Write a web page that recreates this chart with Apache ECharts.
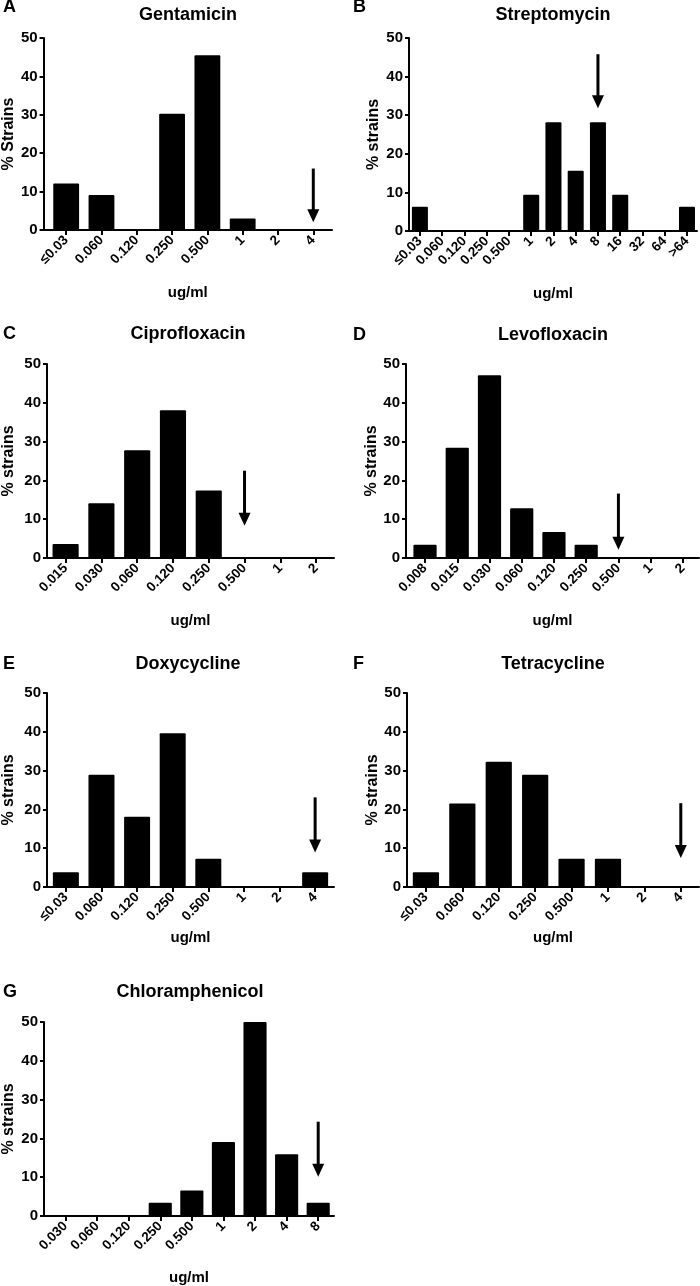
<!DOCTYPE html>
<html><head><meta charset="utf-8">
<script src="https://cdn.jsdelivr.net/npm/echarts@6/dist/echarts.min.js"></script>
<style>html,body{margin:0;padding:0;background:#fff}#c{width:700px;height:1286px}</style>
</head><body><div id="c"></div>
<script>
// ---- data ----
const titles = ['Gentamicin','Streptomycin','Ciprofloxacin','Levofloxacin','Doxycycline','Tetracycline','Chloramphenicol'];
const letters = ['A','B','C','D','E','F','G'];
const yNames = ['% Strains','% strains','% strains','% strains','% strains','% strains','% strains'];
const xName = 'ug/ml';
const yTicks = [0,10,20,30,40,50];

const catsA = ['≤0.03','0.060','0.120','0.250','0.500','1','2','4'];
const valsA = [12.1, 9.1, 0, 30.3, 45.5, 3.0, 0, 0];
const arrowA = [7, 16, 2];

const catsB = ['≤0.03','0.060','0.120','0.250','0.500','1','2','4','8','16','32','64','>64'];
const valsB = [6.3, 0, 0, 0, 0, 9.4, 28.2, 15.6, 28.2, 9.4, 0, 0, 6.3];
const arrowB = [8, 45.8, 31.8];

const catsC = ['0.015','0.030','0.060','0.120','0.250','0.500','1','2'];
const valsC = [3.6, 14.1, 27.8, 38.1, 17.4, 0, 0, 0];
const arrowC = [5, 22.5, 8.3];

const catsD = ['0.008','0.015','0.030','0.060','0.120','0.250','0.500','1','2'];
const valsD = [3.4, 28.4, 47.1, 12.8, 6.7, 3.4, 0, 0, 0];
const arrowD = [6, 16.6, 2.1];

const catsE = ['≤0.03','0.060','0.120','0.250','0.500','1','2','4'];
const valsE = [3.8, 28.9, 18.1, 39.6, 7.3, 0, 0, 3.8];
const arrowE = [7, 23.1, 8.9];

const catsF = ['≤0.03','0.060','0.120','0.250','0.500','1','2','4'];
const valsF = [3.8, 21.5, 32.3, 28.9, 7.3, 7.3, 0, 0];
const arrowF = [7, 21.6, 7.5];

const catsG = ['0.030','0.060','0.120','0.250','0.500','1','2','4','8'];
const valsG = [0, 0, 0, 3.4, 6.6, 19.1, 50, 15.9, 3.4];
const arrowG = [8, 24.3, 10.1];

const panelCats = [catsA, catsB, catsC, catsD, catsE, catsF, catsG];
const panelVals = [valsA, valsB, valsC, valsD, valsE, valsF, valsG];
const panelArrows = [arrowA, arrowB, arrowC, arrowD, arrowE, arrowF, arrowG];

// ---- layout (positions / styles) ----
const layout = [
  {ax:39,  end:332, top:38,   bot:230,  min:-0.64, max:7.53,  yGap:24, xGap:55, tx:188, ty:15,  ly:7},
  {ax:409, end:697, top:38,   bot:231,  min:-0.49, max:12.45, yGap:27, xGap:55, tx:553, ty:15,  ly:7},
  {ax:43,  end:334, top:364,  bot:558,  min:-0.52, max:7.5,   yGap:30, xGap:55, tx:188, ty:334, ly:334},
  {ax:406, end:699, top:364,  bot:558,  min:-0.59, max:8.5,   yGap:25, xGap:55, tx:553, ty:335, ly:335},
  {ax:43,  end:334, top:693,  bot:887,  min:-0.53, max:7.53,  yGap:30, xGap:43, tx:188, ty:664, ly:664},
  {ax:407, end:699, top:693,  bot:887,  min:-0.52, max:7.5,   yGap:25, xGap:43, tx:553, ty:664, ly:664},
  {ax:39,  end:334, top:1022, bot:1216, min:-0.68, max:8.5,   yGap:27, xGap:54, tx:190, ty:992, ly:992}
];
const FONT = "'Liberation Sans', Arial, Helvetica, sans-serif";

const grid = [], xAxis = [], yAxis = [], series = [], graphic = [];
layout.forEach((L, i) => {
  const cats = panelCats[i];
  const idx = cats.map((c, j) => j);
  const width = L.end - L.ax;
  const unit = width / (L.max - L.min);
  grid.push({left: L.ax, top: L.top, width: width, height: L.bot - L.top, containLabel: false});
  xAxis.push({
    type: 'value', gridIndex: i, min: L.min, max: L.max,
    splitLine: {show: false},
    axisLine: {show: true, onZero: false, lineStyle: {color: '#000', width: 2}},
    axisTick: {show: true, customValues: idx, length: 5, lineStyle: {color: '#000', width: 2}},
    axisLabel: {customValues: idx, formatter: v => cats[Math.round(v)], rotate: 45, margin: 8,
      color: '#000', fontWeight: 'bold', fontSize: 13.5, fontFamily: FONT},
    name: xName, nameLocation: 'middle', nameGap: L.xGap,
    nameTextStyle: {color: '#000', fontWeight: 'bold', fontSize: 15, fontFamily: FONT}
  });
  yAxis.push({
    type: 'value', gridIndex: i, min: 0, max: 50, interval: 10,
    splitLine: {show: false},
    axisLine: {show: true, onZero: false, lineStyle: {color: '#000', width: 2}},
    axisTick: {show: true, length: 4, lineStyle: {color: '#000', width: 2}},
    axisLabel: {margin: 6, color: '#000', fontWeight: 'bold', fontSize: 15, fontFamily: FONT,
      formatter: v => yTicks.indexOf(v) >= 0 ? String(v) : ''},
    name: yNames[i], nameLocation: 'middle', nameGap: L.yGap,
    nameTextStyle: {color: '#000', fontWeight: 'bold', fontSize: 16, fontFamily: FONT}
  });
  series.push({
    type: 'bar', xAxisIndex: i, yAxisIndex: i,
    data: panelVals[i].map((v, j) => [j, v]),
    barWidth: unit * 0.72,
    itemStyle: {color: '#000', borderRadius: 1},
    silent: true, animation: false
  });
  series.push({
    type: 'custom', xAxisIndex: i, yAxisIndex: i,
    data: [panelArrows[i]], encode: {x: 0, y: [1, 2]},
    clip: false, silent: true, animation: false,
    renderItem: (params, api) => {
      const p1 = api.coord([api.value(0), api.value(1)]);
      const p2 = api.coord([api.value(0), api.value(2)]);
      const hw = 6, hh = 13;
      return {type: 'group', children: [
        {type: 'line', shape: {x1: p1[0], y1: p1[1], x2: p2[0], y2: p2[1] - hh + 2},
         style: {stroke: '#000', lineWidth: 3}},
        {type: 'polygon', shape: {points: [[p2[0] - hw, p2[1] - hh], [p2[0] + hw, p2[1] - hh], [p2[0], p2[1]]]},
         style: {fill: '#000'}}
      ]};
    }
  });
  graphic.push({type: 'text', x: L.tx, y: L.ty, style: {text: titles[i], textAlign: 'center', textVerticalAlign: 'middle',
    font: 'bold 18px ' + FONT, fill: '#000'}});
  graphic.push({type: 'text', x: (L.tx < 350 ? 3 : 353), y: L.ly, style: {text: letters[i], textAlign: 'left', textVerticalAlign: 'middle',
    font: 'bold 18px ' + FONT, fill: '#000'}});
});

const chart = echarts.init(document.getElementById('c'), null, {renderer: 'canvas'});
chart.setOption({animation: false, backgroundColor: '#fff', grid, xAxis, yAxis, series, graphic});
</script>
</body></html>
